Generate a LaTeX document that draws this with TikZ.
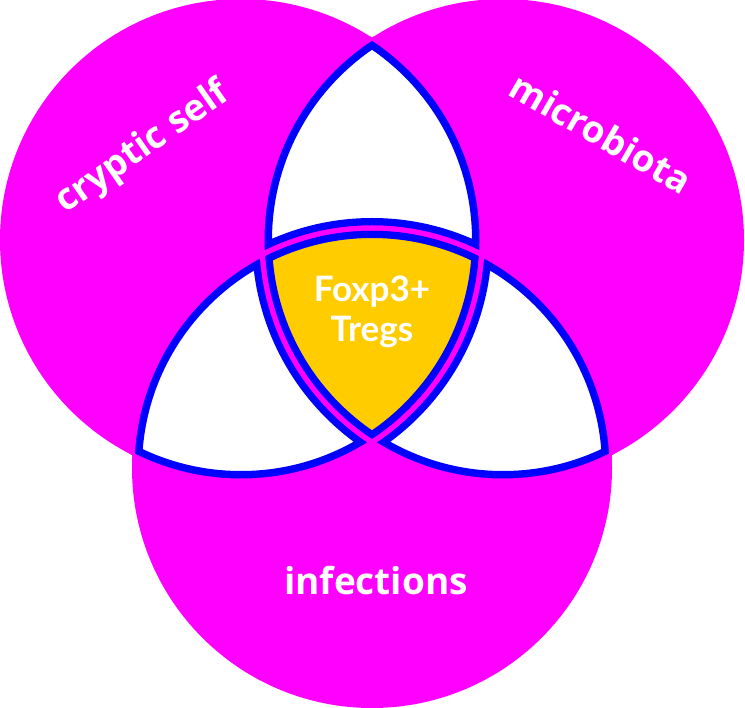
\documentclass[tikz,border=0pt]{standalone}
\usepackage{fontspec}
\setmainfont{Open Sans}
\newfontfamily\tregfont{Lato}
\definecolor{vennpink}{HTML}{FF00FF}
\definecolor{vennblue}{HTML}{0000FF}
\definecolor{venngold}{HTML}{FFCC00}
\def\cSelf{(241,240) circle (241)}
\def\cMicro{(503,240) circle (241)}
\def\cInf{(372,468) circle (240)}
\begin{document}
\begin{tikzpicture}[x=1pt, y=-1pt, line join=round,
    rim/.style={draw=vennblue, line width=20pt},
    seam/.style={draw=vennpink, line width=5pt},
    vennlabel/.style={text=white, font=\bfseries\fontsize{37}{44}\selectfont}]
\useasboundingbox (0,0) rectangle (745,708);
\fill[vennpink] \cSelf; \fill[vennpink] \cMicro; \fill[vennpink] \cInf;
% white lenses
\begin{scope}
  \clip \cSelf; \clip \cMicro;
  \fill[white] \cSelf;
  \path[rim] \cSelf \cMicro \cInf;
\end{scope}
\begin{scope}
  \clip \cSelf; \clip \cInf;
  \fill[white] \cSelf;
  \path[rim] \cSelf \cMicro \cInf;
\end{scope}
\begin{scope}
  \clip \cMicro; \clip \cInf;
  \fill[white] \cMicro;
  \path[rim] \cSelf \cMicro \cInf;
\end{scope}
% centre
\begin{scope}
  \clip \cSelf; \clip \cMicro; \clip \cInf;
  \fill[venngold] \cSelf;
  \path[rim] \cSelf \cMicro \cInf;
\end{scope}
% seams
\begin{scope} \clip \cSelf; \path[seam] \cMicro \cInf; \end{scope}
\begin{scope} \clip \cMicro; \path[seam] \cSelf \cInf; \end{scope}
\begin{scope} \clip \cInf; \path[seam] \cSelf \cMicro; \end{scope}
\node[vennlabel, rotate=35] (self) at (143,148) {cryptic self};
\node[vennlabel, rotate=-30] (micro) at (601,133) {microbiota};
\node[vennlabel] (inf) at (376,581) {infections};
\node[text=white, align=center, font=\tregfont\bfseries\fontsize{35}{40}\selectfont] (tregs) at (372,312) {Foxp3+\\Tregs};
\end{tikzpicture}
\end{document}
